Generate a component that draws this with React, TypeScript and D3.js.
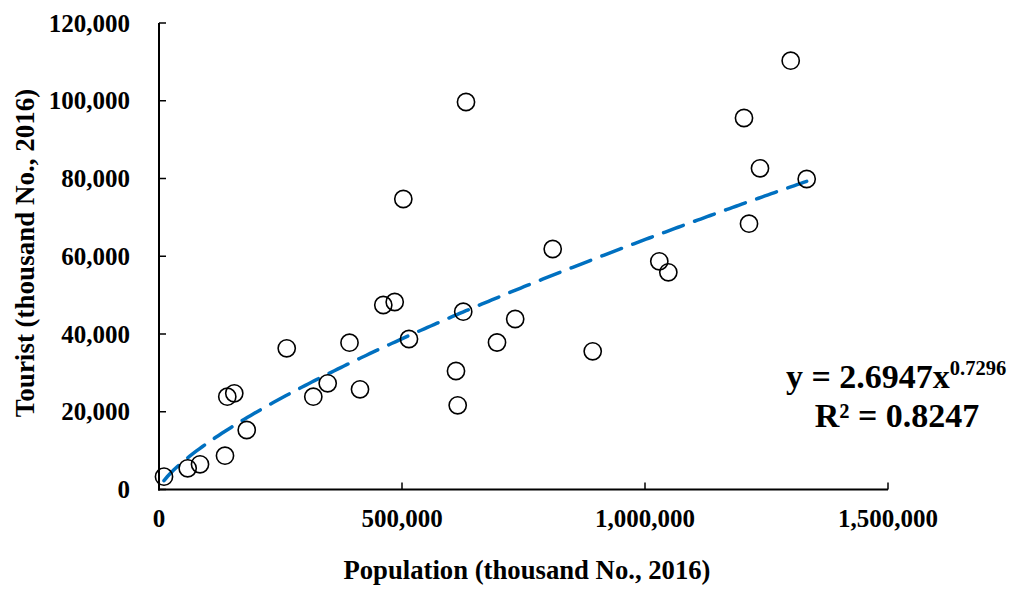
import React from "react";
import * as d3 from "d3";

// Population (thousand No., 2016) per region
const population: number[] = [
  10300, 59000, 84400, 135800, 140500, 154900, 180500, 262800, 317500, 347100,
  392000, 413600, 461500, 485000, 502700, 514400, 611100, 614600, 626000, 631700,
  695500, 732900, 810100, 892400, 1029400, 1048000, 1203700, 1214000, 1236600,
  1299800, 1332700,
];

// Tourists (thousand No., 2016) per region
const tourists: number[] = [
  3300, 5450, 6480, 8690, 23870, 24750, 15300, 36320, 23870, 27320,
  37760, 25770, 47460, 48230, 74730, 38710, 30480, 21660, 45740, 99680,
  37810, 43860, 61860, 35550, 58700, 55870, 95560, 68370, 82620,
  110300, 79870,
];

// Power trend fit: y = a * x^b
const fitA = 2.6947;
const fitB = 0.7296;
const fitR2 = 0.8247;

const xTicks: number[] = [0, 500000, 1000000, 1500000];
const yTicks: number[] = [0, 20000, 40000, 60000, 80000, 100000, 120000];

const W = 1016;
const H = 590;
const FONT = "'Liberation Serif', 'Times New Roman', serif";

export default function App() {
  const x = d3.scaleLinear().domain([0, 1500000]).range([159, 888]);
  const y = d3.scaleLinear().domain([0, 120000]).range([489.5, 23]);
  const fmt = d3.format(",");

  const xMin = d3.min(population) as number;
  const xMax = d3.max(population) as number;
  const trendPts: [number, number][] = d3
    .range(0, 201)
    .map((i) => xMin + ((xMax - xMin) * i) / 200)
    .map((v) => [v, fitA * Math.pow(v, fitB)]);
  const trendPath = d3
    .line<[number, number]>()
    .x((d) => x(d[0]))
    .y((d) => y(d[1]))(trendPts) as string;

  const x0 = x(0);
  const y0 = y(0);

  return (
    <svg
      width={W}
      height={H}
      viewBox={`0 0 ${W} ${H}`}
      style={{ position: "absolute", left: 0, top: 0, display: "block", background: "#fff" }}
      fontFamily={FONT}
      fontWeight="bold"
    >
      <rect x={0} y={0} width={W} height={H} fill="#fff" />

      {/* axes */}
      <line x1={x0} y1={y(120000)} x2={x0} y2={y0 + 1} stroke="#000" strokeWidth={2} />
      <line x1={x0 - 1} y1={y0} x2={x(1500000)} y2={y0} stroke="#000" strokeWidth={2} />
      {yTicks.map((t) => (
        <g key={"yt" + t}>
          <line x1={x0} x2={x0 + 7} y1={y(t)} y2={y(t)} stroke="#000" strokeWidth={1.5} />
          <text x={130} y={y(t)} dy="0.34em" textAnchor="end" fontSize={25} fill="#000">
            {fmt(t)}
          </text>
        </g>
      ))}
      {xTicks.map((t) => (
        <g key={"xt" + t}>
          <line x1={x(t)} x2={x(t)} y1={y0} y2={y0 - 7} stroke="#000" strokeWidth={1.5} />
          <text x={x(t)} y={527} textAnchor="middle" fontSize={25} fill="#000">
            {fmt(t)}
          </text>
        </g>
      ))}

      {/* axis titles */}
      <text x={527} y={579} textAnchor="middle" fontSize={26.7} fill="#000">
        Population (thousand No., 2016)
      </text>
      <text
        transform={`translate(34,253) rotate(-90)`}
        textAnchor="middle"
        fontSize={27}
        fill="#000"
      >
        Tourist (thousand No., 2016)
      </text>

      {/* power trend line */}
      <path
        d={trendPath}
        fill="none"
        stroke="#0070C0"
        strokeWidth={3.5}
        strokeDasharray="21 12"
        strokeLinecap="round"
      />

      {/* observations */}
      {population.map((p, i) => (
        <circle
          key={"pt" + i}
          cx={x(p)}
          cy={y(tourists[i])}
          r={8.6}
          fill="none"
          stroke="#000"
          strokeWidth={1.6}
        />
      ))}

      {/* fit equation */}
      <text x={896} y={388} textAnchor="middle" fontSize={34} fill="#000">
        {`y = ${fitA}x`}
        <tspan fontSize={20.5} dy={-13}>
          {`${fitB}`}
        </tspan>
      </text>
      <text x={897} y={427} textAnchor="middle" fontSize={34} fill="#000">
        {`R² = ${fitR2}`}
      </text>
    </svg>
  );
}
